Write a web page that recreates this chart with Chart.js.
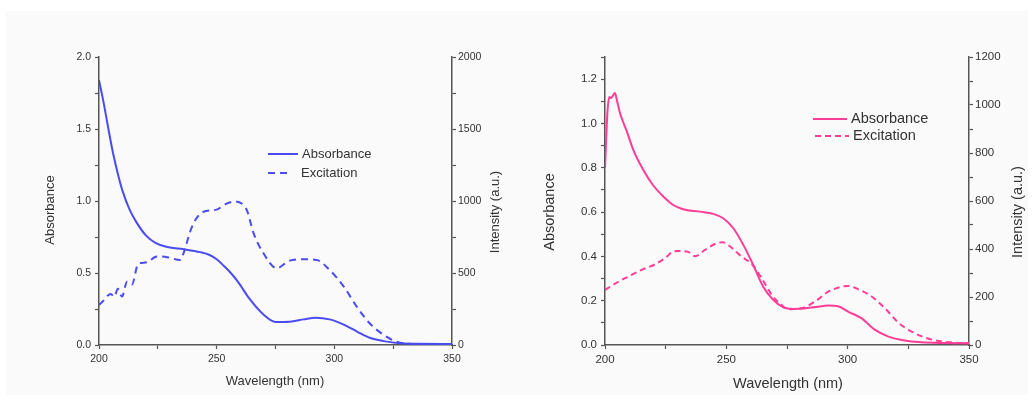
<!DOCTYPE html>
<html>
<head>
<meta charset="utf-8">
<script src="https://cdn.jsdelivr.net/npm/chart.js@4.4.1/dist/chart.umd.min.js"></script>
<style>
  html, body { margin: 0; padding: 0; background: #ffffff; }
  #bg { position: absolute; left: 6px; top: 11px; width: 1022px; height: 384px; background: #fafafa; }
  .box { position: absolute; top: 0; width: 517px; height: 405px; }
  #leftBox { left: 0; }
  #rightBox { left: 517px; }
</style>
</head>
<body>
<div id="bg"></div>
<div class="box" id="leftBox"><canvas id="leftChart" width="517" height="405"></canvas></div>
<div class="box" id="rightBox"><canvas id="rightChart" width="517" height="405"></canvas></div>
<script>
// --- dados ---
// gráfico da esquerda (azul)
const leftAbsWl = [200, 202, 204, 206, 208, 210, 213, 216, 220, 224, 229, 236, 243, 247, 250, 253, 256, 259, 264, 270, 275, 281, 287, 292, 298, 304, 310, 315, 321, 328, 335, 350];
const leftAbs   = [1.84, 1.68, 1.50, 1.33, 1.19, 1.07, 0.94, 0.85, 0.76, 0.71, 0.68, 0.665, 0.645, 0.625, 0.595, 0.55, 0.50, 0.44, 0.32, 0.21, 0.16, 0.162, 0.178, 0.19, 0.178, 0.142, 0.09, 0.05, 0.027, 0.012, 0.008, 0.007];
const leftExcWl = [200, 202, 203.5, 205, 206.5, 208, 209.8, 211.9, 214, 216.5, 218, 220.5, 224.6, 229, 234.5, 236, 238.8, 241, 244.4, 250, 254, 258, 261.5, 263, 265.6, 269.9, 275.5, 281, 287, 292.5, 298, 304, 309.5, 315, 321, 326.5, 332, 340, 350];
const leftExc   = [278, 310, 340, 355, 335, 390, 336, 440, 420, 560, 570, 575, 615, 610, 590, 640, 790, 870, 925, 940, 980, 997, 970, 930, 780, 637, 533, 586, 596, 591, 521, 406, 267, 151, 70, 23, 8, 5, 5];

// gráfico da direita (rosa)
const rightAbsWl = [200, 201, 201.8, 202.5, 203.2, 204.1, 205, 206.2, 209, 211.7, 215.8, 219.9, 224, 228.1, 232.2, 239.1, 244.6, 248.7, 252.9, 257, 261.1, 265.2, 269.4, 273.5, 277.6, 282, 287, 292, 296, 300.3, 305.8, 311.3, 316.8, 322.3, 330.5, 340, 350];
const rightAbs   = [0.80, 1.05, 1.12, 1.115, 1.125, 1.137, 1.10, 1.046, 0.964, 0.88, 0.79, 0.72, 0.67, 0.632, 0.613, 0.602, 0.592, 0.572, 0.527, 0.452, 0.361, 0.263, 0.203, 0.17, 0.163, 0.165, 0.172, 0.178, 0.175, 0.15, 0.12, 0.068, 0.038, 0.023, 0.012, 0.009, 0.008];
const rightExcWl = [200, 204, 209.6, 215.1, 220.6, 224.7, 227.8, 230.2, 234.3, 237.1, 241.2, 245.3, 248.5, 252.2, 256.3, 260.4, 264.6, 268.7, 272.8, 275.5, 281, 286.5, 292, 297.5, 300.3, 304.4, 309.9, 315.4, 320.9, 326.4, 331.9, 337.4, 344.2, 350];
const rightExc   = [229, 255, 285, 313, 336, 362, 388, 392, 388, 370, 396, 421, 428, 405, 368, 338, 278, 209, 167, 149, 153, 181, 222, 243, 246, 232, 202, 153, 93, 56, 31, 17, 10, 7];

// rótulos
const seriesLabels = ['Absorbance', 'Excitation'];
const xTitle = 'Wavelength (nm)';
const yTitle = 'Absorbance';
const y1Title = 'Intensity (a.u.)';

const FONT = '"Liberation Sans", Arial, sans-serif';
const AXIS = '#555555';
const TEXT = '#333333';

function toPoints(xs, ys) {
    return xs.map((x, i) => ({ x: x, y: ys[i] }));
}

// legenda e títulos desenhados à mão (posições fixas como no original)
const decorPlugin = {
    id: 'decor',
    afterDraw(chart, args, opts) {
        const ctx = chart.ctx;
        ctx.save();
        ctx.fillStyle = TEXT;
        ctx.font = opts.titleSize + 'px ' + FONT;
        ctx.textAlign = 'center';
        ctx.textBaseline = 'middle';
        ctx.fillText(xTitle, opts.xTitle[0], opts.xTitle[1]);

        [[yTitle, opts.yTitle], [y1Title, opts.y1Title]].forEach(function(t) {
            ctx.save();
            ctx.translate(t[1][0], t[1][1]);
            ctx.rotate(-Math.PI / 2);
            ctx.fillText(t[0], 0, 0);
            ctx.restore();
        });

        // legenda
        ctx.textAlign = 'left';
        ctx.font = opts.legendSize + 'px ' + FONT;
        chart.data.datasets.forEach(function(ds, i) {
            const it = opts.legend[i];
            ctx.save();
            ctx.strokeStyle = ds.borderColor;
            ctx.lineWidth = ds.borderWidth;
            ctx.setLineDash(ds.borderDash || []);
            ctx.beginPath();
            ctx.moveTo(it.x0, it.y);
            ctx.lineTo(it.x1, it.y);
            ctx.stroke();
            ctx.restore();
            ctx.fillStyle = TEXT;
            ctx.fillText(ds.label, it.tx, it.y);
        });
        ctx.restore();
    }
};

function makeChart(canvasId, cfg) {
    const tickFont = { family: FONT, size: cfg.tickSize };
    const grid = { drawOnChartArea: false, drawTicks: true, tickLength: 4, tickColor: AXIS, tickWidth: 1.2 };
    const border = { color: AXIS, width: 1.5 };

    const data = {
        datasets: [{
            label: seriesLabels[0],
            data: toPoints(cfg.absWl, cfg.abs),
            yAxisID: 'y',
            borderColor: cfg.color,
            borderWidth: 2,
            pointRadius: 0,
            cubicInterpolationMode: 'monotone',
            fill: false
        }, {
            label: seriesLabels[1],
            data: toPoints(cfg.excWl, cfg.exc),
            yAxisID: 'y1',
            borderColor: cfg.color,
            borderWidth: 2,
            borderDash: cfg.dash,
            pointRadius: 0,
            cubicInterpolationMode: 'monotone',
            fill: false
        }]
    };

    const options = {
        responsive: false,
        animation: false,
        events: [],
        layout: { padding: { top: 57, left: 0, right: 0, bottom: 0 } },
        plugins: {
            legend: { display: false },
            tooltip: { enabled: false },
            decor: cfg.decor
        },
        scales: {
            x: {
                type: 'linear',
                min: 200, max: 350,
                grid: grid, border: border,
                ticks: {
                    stepSize: 25, autoSkip: false, maxRotation: 0, padding: 4,
                    color: TEXT, font: tickFont,
                    callback: v => (v % 50 === 0 ? String(v) : '')
                },
                afterFit: s => { s.height = 60; }
            },
            y: {
                position: 'left',
                min: 0, max: cfg.yMax,
                grid: grid, border: border,
                ticks: {
                    stepSize: cfg.yStep, autoSkip: false, maxTicksLimit: 30, padding: 4,
                    color: TEXT, font: tickFont,
                    callback: cfg.yLabel
                },
                afterFit: s => { s.width = cfg.left; }
            },
            y1: {
                position: 'right',
                min: 0, max: cfg.y1Max,
                grid: grid, border: border,
                ticks: {
                    stepSize: cfg.y1Step, autoSkip: false, maxTicksLimit: 30, padding: 2,
                    color: TEXT, font: tickFont,
                    callback: cfg.y1Label
                },
                afterFit: s => { s.width = 65; }
            }
        }
    };

    const ctx = document.getElementById(canvasId);
    return new Chart(ctx.getContext('2d'), { type: 'line', data: data, options: options, plugins: [decorPlugin] });
}

// --- gráfico da esquerda ---
makeChart('leftChart', {
    absWl: leftAbsWl, abs: leftAbs, excWl: leftExcWl, exc: leftExc,
    color: '#4b4bf2', dash: [7, 5],
    tickSize: 10.5, left: 99,
    yMax: 2, yStep: 0.25,
    yLabel: v => (Math.round(v * 4) % 2 === 0 ? v.toFixed(1) : ''),
    y1Max: 2000, y1Step: 250,
    y1Label: v => (v % 500 === 0 ? String(v) : ''),
    decor: {
        titleSize: 13, legendSize: 13,
        xTitle: [275, 381], yTitle: [50, 210], y1Title: [495, 212],
        legend: [
            { x0: 268, x1: 298, tx: 302, y: 154 },
            { x0: 268, x1: 290, tx: 301, y: 173 }
        ]
    }
});

// --- gráfico da direita ---
makeChart('rightChart', {
    absWl: rightAbsWl, abs: rightAbs, excWl: rightExcWl, exc: rightExc,
    color: '#ff3d98', dash: [6, 4],
    tickSize: 11.5, left: 88,
    yMax: 1.3, yStep: 0.1,
    yLabel: v => (Math.round(v * 10) % 2 === 0 ? v.toFixed(1) : ''),
    y1Max: 1200, y1Step: 100,
    y1Label: v => (Math.round(v) % 200 === 0 ? String(Math.round(v)) : ''),
    decor: {
        titleSize: 14.5, legendSize: 14.5,
        xTitle: [271, 384], yTitle: [33, 212], y1Title: [501, 212],
        legend: [
            { x0: 296, x1: 330, tx: 334, y: 119 },
            { x0: 298, x1: 332, tx: 336, y: 136 }
        ]
    }
});
</script>
</body>
</html>
